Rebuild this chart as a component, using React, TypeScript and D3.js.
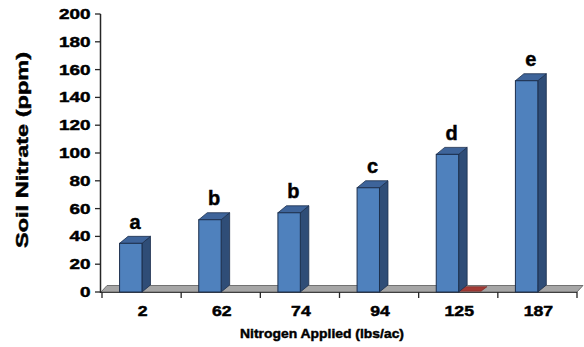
import React from "react";
import * as d3 from "d3";

const categories = ["2", "62", "74", "94", "125", "187"];
const soilNitrate = [35, 52, 57, 75, 99, 152];
const secondSeries = [0, 0, 0, 0, 0.6, 0];
const groupLetters = ["a", "b", "b", "c", "d", "e"];
const yTicks = [0, 20, 40, 60, 80, 100, 120, 140, 160, 180, 200];

const W = 584;
const H = 347;
const FONT = "'Liberation Sans', Arial, sans-serif";

export default function App() {
  const x = d3.scaleBand<string>().domain(categories).range([102, 577]).paddingInner(0).paddingOuter(0);
  const y = d3.scaleLinear().domain([0, 200]).range([292, 14]);
  const bw = x.bandwidth();
  const barW = bw * 0.283;
  const off1 = bw * 0.222;
  const dx = 8.5;
  const dy = -7;
  const fdx = 6;
  const fdy = -6.5;
  const y0 = y(0);

  const bars = categories.map((c, i) => {
    const left = (x(c) as number) + off1;
    const top = y(soilNitrate[i]);
    return { c, i, left, top };
  });

  const reds = categories
    .map((c, i) => ({ c, i, v: secondSeries[i] }))
    .filter((d) => d.v > 0)
    .map((d) => {
      const left = (x(d.c) as number) + off1 + barW;
      const top = y(d.v);
      return { ...d, left, top };
    });

  const pts = (arr: number[][]) => arr.map((p) => p.join(",")).join(" ");
  const heavy = { stroke: "#000", strokeWidth: 0.45, paintOrder: "stroke" as const };

  return (
    <svg width={W} height={H} style={{ position: "absolute", left: 0, top: 0, background: "#fff" }}>
      {/* floor */}
      <polygon
        points={pts([
          [101, y0],
          [577, y0],
          [577 + fdx, y0 + fdy],
          [101 + fdx, y0 + fdy],
        ])}
        fill="#a6a6a6"
        stroke="#595959"
        strokeWidth={0.8}
      />
      <line x1={101} x2={577} y1={y0 + 0.5} y2={y0 + 0.5} stroke="#404040" strokeWidth={1.2} />
      {/* x ticks */}
      {[...categories.map((c) => x(c) as number), 577].map((t, i) => (
        <line key={"xt" + i} x1={t} x2={t} y1={y0} y2={y0 + 6} stroke="#262626" strokeWidth={1.3} />
      ))}
      {/* y axis */}
      <line x1={100.5} x2={100.5} y1={y(200)} y2={y0 + 1} stroke="#262626" strokeWidth={1.5} />
      {yTicks.map((t) => (
        <g key={"yt" + t}>
          <line x1={95} x2={100.5} y1={y(t)} y2={y(t)} stroke="#262626" strokeWidth={1.3} />
          <text
            x={90.5}
            y={y(t)}
            dy="0.36em"
            textAnchor="end"
            fontFamily={FONT}
            fontWeight="bold"
            fontSize={14}
            textLength={String(t).length * 10.5}
            lengthAdjust="spacingAndGlyphs"
            fill="#000"
            {...heavy}
          >
            {t}
          </text>
        </g>
      ))}
      {/* red flat series */}
      {reds.map((r) => (
        <g key={"r" + r.i}>
          <polygon
            points={pts([
              [r.left, r.top],
              [r.left + barW, r.top],
              [r.left + barW + 6, r.top - 4.5],
              [r.left + 6, r.top - 4.5],
            ])}
            fill="#a33a34"
            stroke="#7a2723"
            strokeWidth={0.6}
          />
        </g>
      ))}
      {/* bars */}
      {bars.map((b) => (
        <g key={"b" + b.i}>
          <polygon
            points={pts([
              [b.left + barW, b.top],
              [b.left + barW + dx, b.top + dy],
              [b.left + barW + dx, y0 + dy],
              [b.left + barW, y0],
            ])}
            fill="#2f4d77"
            stroke="#1c2f4d"
            strokeWidth={0.8}
          />
          <polygon
            points={pts([
              [b.left, b.top],
              [b.left + dx, b.top + dy],
              [b.left + barW + dx, b.top + dy],
              [b.left + barW, b.top],
            ])}
            fill="#3e649a"
            stroke="#1c2f4d"
            strokeWidth={0.8}
          />
          <rect
            x={b.left}
            y={b.top}
            width={barW}
            height={y0 - b.top}
            fill="#4f81bd"
            stroke="#1c2f4d"
            strokeWidth={1}
          />
          <text
            x={b.left + barW / 2 + dx / 2}
            y={b.top + dy - 7.5}
            textAnchor="middle"
            fontFamily={FONT}
            fontWeight="bold"
            fontSize={20}
            fill="#000"
            {...heavy}
          >
            {groupLetters[b.i]}
          </text>
        </g>
      ))}
      {/* x tick labels */}
      {categories.map((c) => (
        <text
          key={"xl" + c}
          x={(x(c) as number) + bw / 2 + 1}
          y={315.5}
          textAnchor="middle"
          fontFamily={FONT}
          fontWeight="bold"
          fontSize={14}
          textLength={c.length * 9.8}
          lengthAdjust="spacingAndGlyphs"
          fill="#000"
          {...heavy}
        >
          {c}
        </text>
      ))}
      {/* axis titles */}
      <text
        x={322}
        y={337.5}
        textAnchor="middle"
        fontFamily={FONT}
        fontWeight="bold"
        fontSize={13}
        textLength={164}
        lengthAdjust="spacingAndGlyphs"
        fill="#000"
        {...heavy}
      >
        Nitrogen Applied (lbs/ac)
      </text>
      <text
        transform="translate(22.5,150) rotate(-90)"
        textAnchor="middle"
        dy="0.35em"
        fontFamily={FONT}
        fontWeight="bold"
        fontSize={17}
        textLength={196}
        lengthAdjust="spacingAndGlyphs"
        fill="#000"
        {...heavy}
      >
        Soil Nitrate (ppm)
      </text>
    </svg>
  );
}
